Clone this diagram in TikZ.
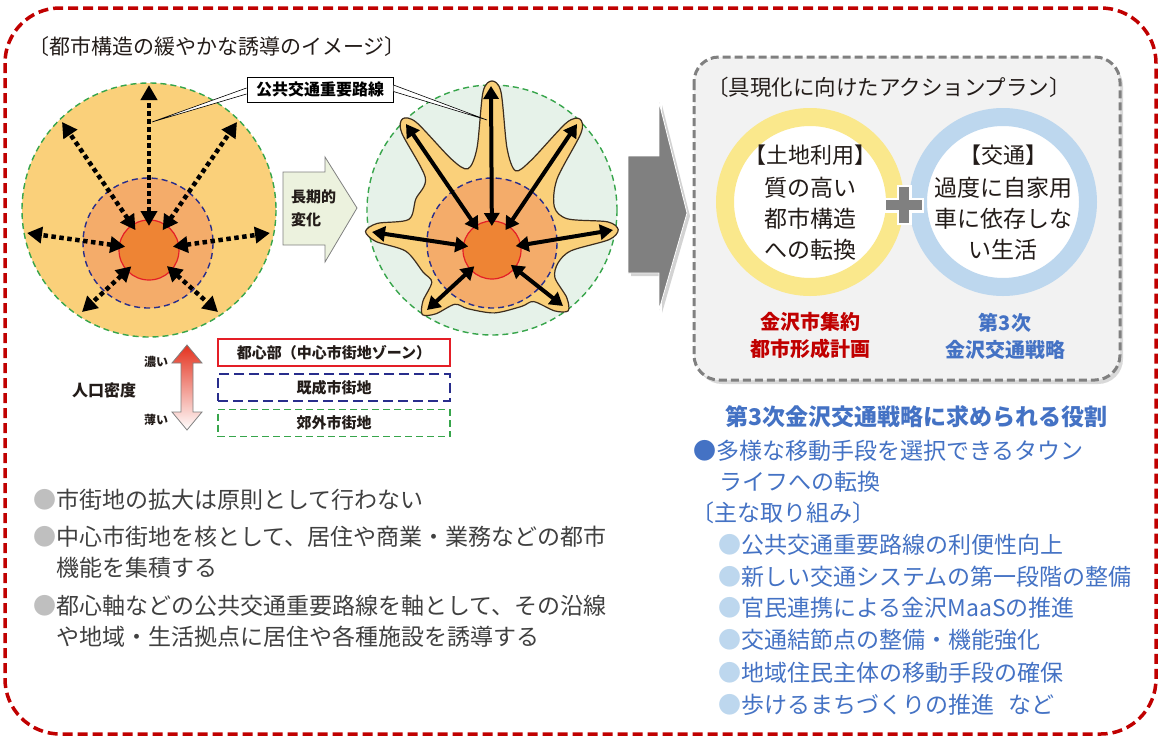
\documentclass[tikz,border=0pt]{standalone}
\usepackage{fontspec}
\setmainfont{Noto Sans CJK JP}
\usetikzlibrary{arrows.meta, calc, shadows}

\definecolor{framered}{RGB}{192,0,0}
\definecolor{ink}{RGB}{35,28,25}
\definecolor{txtgray}{RGB}{64,64,64}
\definecolor{bulgray}{RGB}{191,191,191}
\definecolor{outerfill}{RGB}{250,208,122}
\definecolor{midfill}{RGB}{244,172,106}
\definecolor{corefill}{RGB}{238,132,52}
\definecolor{subgreen}{RGB}{55,165,75}
\definecolor{navy}{RGB}{40,45,140}
\definecolor{corered}{RGB}{228,30,38}
\definecolor{paleg}{RGB}{230,242,233}
\definecolor{starline}{RGB}{60,45,30}
\definecolor{changefill}{RGB}{236,242,222}
\definecolor{densred}{RGB}{228,50,30}
\definecolor{panelgray}{RGB}{242,242,242}
\definecolor{dashgray}{RGB}{128,128,128}
\definecolor{ringyellow}{RGB}{250,232,140}
\definecolor{ringblue}{RGB}{189,215,238}
\definecolor{planred}{RGB}{192,0,0}
\definecolor{planblue}{RGB}{68,114,196}
\definecolor{lblue}{RGB}{189,215,238}

\begin{document}
\begin{tikzpicture}[x=1pt, y=-1pt,
  zone/.style={dash pattern=on 6pt off 4pt, line width=1.4pt},
  dotarr/.style={line width=4.5pt, dash pattern=on 4.5pt off 3.5pt, >={Triangle[length=15pt,width=16pt]}, <->},
  solarr/.style={line width=4pt, >={Triangle[length=13pt,width=15pt]}, <->},
  legbox/.style={minimum width=232pt, minimum height=27pt, inner sep=0pt, font=\fontsize{15}{15}\selectfont\bfseries, text=ink},
  bodytxt/.style={anchor=west, inner sep=0pt, align=left, font=\fontsize{23}{31}\selectfont}]
  \useasboundingbox (0,0) rectangle (1163,742);

  % outer frame
  \draw[framered, line width=3.5pt, dash pattern=on 10pt off 5pt, rounded corners=55pt] (5,8) rectangle (1156,734);
  \node[anchor=west, inner sep=0pt, font=\fontsize{21}{21}\selectfont, text=ink] (ttl) at (28,47) {〔都市構造の緩やかな誘導のイメージ〕};

  % today: spreading city
  \fill[outerfill] (149,210) circle[radius=127];
  \draw[subgreen, zone] (149,210) circle[radius=127];
  \draw[navy, zone, fill=midfill] (148,243) circle[radius=65];
  \draw[corered, line width=1.2pt, fill=corefill] (149,250) circle[radius=30];
  \coordinate (lc) at (149,250);
  \coordinate (lt1) at (149,85);
  \coordinate (lt2) at (62,122);
  \coordinate (lt3) at (237,122);
  \coordinate (lt4) at (27,233);
  \coordinate (lt5) at (270,233);
  \coordinate (lt6) at (82,312);
  \coordinate (lt7) at (218,312);
  \draw[dotarr] ($(lc)!24pt!(lt1)$) -- (lt1);
  \draw[dotarr] ($(lc)!24pt!(lt2)$) -- (lt2);
  \draw[dotarr] ($(lc)!24pt!(lt3)$) -- (lt3);
  \draw[dotarr] ($(lc)!24pt!(lt4)$) -- (lt4);
  \draw[dotarr] ($(lc)!24pt!(lt5)$) -- (lt5);
  \draw[dotarr] ($(lc)!24pt!(lt6)$) -- (lt6);
  \draw[dotarr] ($(lc)!24pt!(lt7)$) -- (lt7);

  % long-term change
  \draw[dashgray, line width=0.8pt, fill=changefill] (283,172) -- (325,172) -- (325,157) -- (357,208) -- (325,262) -- (325,245) -- (283,245) -- cycle;
  \node[anchor=west, inner sep=0pt, align=left, font=\fontsize{15}{23}\selectfont\bfseries, text=ink] (chg) at (291,208) {長期的\\変化};

  % future: city along the main routes
  \draw[subgreen, zone, fill=paleg] (492,210) circle[radius=125];
  \draw[starline, line width=1.2pt, fill=outerfill] plot[smooth cycle] coordinates {
    (431.8,282.1) (422.9,301.2) (422.4,314.7) (435.9,313.8) (454.8,304.3)
    (468.1,308.8) (494.5,312.9) (521.6,306.4)
    (533.7,301.6) (554.7,310.9) (568.2,310.8) (566.7,297.5) (554.9,277.6)
    (558,263)
    (571.2,250.7) (609.2,239.6) (618.2,229.7) (607.4,221.8) (567.8,218.9)
    (554.4,207)
    (557.1,178.9) (580.9,133.3) (580.0,119.1) (566.3,122.9) (531.1,160.3)
    (515.5,170.7)
    (507,148) (501,92) (492,81) (483,92) (477,148)
    (467.9,168.8)
    (451.3,159.0) (416.4,122.4) (402.6,118.8) (401.8,133.0) (425.3,177.6)
    (415.8,199)
    (408.8,219.4) (377.3,223.4) (365.5,231.4) (375.7,241.4) (405.8,251.2)
    (423,272)};
  \draw[navy, zone, fill=midfill] (492,243) circle[radius=65];
  \draw[corered, line width=1.2pt, fill=corefill] (492,250) circle[radius=29];
  \coordinate (rc) at (492,250);
  \coordinate (rt1) at (491,86);
  \coordinate (rt2) at (406,124);
  \coordinate (rt3) at (577,124);
  \coordinate (rt4) at (372,232);
  \coordinate (rt5) at (613,230);
  \coordinate (rt6) at (427,310);
  \coordinate (rt7) at (563,306);
  \draw[solarr] ($(rc)!24pt!(rt1)$) -- (rt1);
  \draw[solarr] ($(rc)!24pt!(rt2)$) -- (rt2);
  \draw[solarr] ($(rc)!24pt!(rt3)$) -- (rt3);
  \draw[solarr] ($(rc)!24pt!(rt4)$) -- (rt4);
  \draw[solarr] ($(rc)!24pt!(rt5)$) -- (rt5);
  \draw[solarr] ($(rc)!24pt!(rt6)$) -- (rt6);
  \draw[solarr] ($(rc)!24pt!(rt7)$) -- (rt7);

  % route label with callouts
  \coordinate (lpin) at (152,122);
  \coordinate (rpin) at (487,120);
  \node[draw=black, fill=white, line width=1pt, minimum width=146pt, minimum height=25pt, inner sep=0pt, font=\fontsize{16}{16}\selectfont\bfseries] (route) at (320,89.5) {公共交通重要路線};
  \draw[fill=white, line width=0.6pt] ([yshift=1.5pt]route.west) -- (lpin) -- ([yshift=-4.5pt]route.west);
  \draw[fill=white, line width=0.6pt] ([yshift=4.5pt]route.east) -- (rpin) -- ([yshift=-2pt]route.east);

  % density legend
  \node[font=\fontsize{16}{16}\selectfont\bfseries, text=ink] (dens) at (104,390) {人口密度};
  \node[font=\fontsize{12}{12}\selectfont\bfseries, text=ink] (hi) at (156,362) {濃い};
  \node[font=\fontsize{12}{12}\selectfont\bfseries, text=ink] (lo) at (156,420) {薄い};
  \path[draw=dashgray, line width=0.8pt, top color=densred, bottom color=white] (187,345) -- (202,363) -- (193,363) -- (193,412) -- (202,412) -- (187,430) -- (172,412) -- (181,412) -- (181,363) -- (172,363) -- cycle;
  \node[legbox, draw=corered, line width=1.3pt] (k1) at (334,352.5) {都心部（中心市街地ゾーン）};
  \node[legbox, draw=navy, line width=1.4pt, dash pattern=on 10pt off 5pt] (k2) at (334,387.5) {既成市街地};
  \node[legbox, draw=subgreen, line width=1.4pt, dash pattern=on 7pt off 4pt] (k3) at (334,423) {郊外市街地};

  % policy points
  \node[bodytxt, text=txtgray] (p1) at (33,500) {\textcolor{bulgray}{●}市街地の拡大は原則として行わない};
  \node[bodytxt, text=txtgray] (p2) at (33,552) {\textcolor{bulgray}{●}中心市街地を核として、居住や商業・業務などの都市\\\phantom{●}機能を集積する};
  \node[bodytxt, text=txtgray] (p3) at (33,621) {\textcolor{bulgray}{●}都心軸などの公共交通重要路線を軸として、その沿線\\\phantom{●}や地域・生活拠点に居住や各種施設を誘導する};

  % big arrow to the action plan
  \path[fill=dashgray, draw=white, line width=0.8pt, drop shadow={opacity=0.35, shadow xshift=3pt, shadow yshift=-3pt}] (628,156) -- (659,156) -- (659,102) -- (687,213) -- (659,310) -- (659,273) -- (628,273) -- cycle;

  % action plan panel
  \path[draw=dashgray, line width=3pt, dash pattern=on 8pt off 4pt, fill=panelgray, rounded corners=25pt, drop shadow={opacity=0.3, shadow xshift=3pt, shadow yshift=-4pt}] (694,57) rectangle (1120,380);
  \node[anchor=west, inner sep=0pt, font=\fontsize{21.5}{21.5}\selectfont, text=ink] (plan) at (707,87) {〔具現化に向けたアクションプラン〕};
  \draw[ringyellow, line width=18pt, fill=white] (810,202) circle[radius=85];
  \draw[ringblue, line width=18pt, fill=white] (1003,202) circle[radius=85];
  \draw[white, line width=15pt] (884,205) -- (924,205) (904,185) -- (904,225);
  \draw[dashgray, line width=10pt] (886,205) -- (922,205) (904,187) -- (904,223);
  \node[font=\fontsize{22}{22}\selectfont, text=ink] (landh) at (810,155) {【土地利用】};
  \node[align=center, font=\fontsize{23}{31}\selectfont, text=ink] (land) at (810,219) {質の高い\\都市構造\\への転換};
  \node[font=\fontsize{22}{22}\selectfont, text=ink] (trafh) at (1003,155) {【交通】};
  \node[align=center, font=\fontsize{23}{31}\selectfont, text=ink] (traf) at (1003,219) {過度に自家用\\車に依存しな\\い生活};
  \node[align=center, font=\fontsize{20}{27}\selectfont\bfseries, text=planred] (cityplan) at (810,336) {金沢市集約\\都市形成計画};
  \node[align=center, font=\fontsize{20}{27}\selectfont\bfseries, text=planblue] (trafplan) at (1005,336) {第3次\\金沢交通戦略};

  % role of the transport strategy
  \node[font=\fontsize{23}{23}\selectfont\bfseries, text=planblue] (role) at (916,417) {第3次金沢交通戦略に求められる役割};
  \node[bodytxt, text=planblue] (town) at (693,466) {●多様な移動手段を選択できるタウン\\\hspace*{1.15em}ライフへの転換};
  \node[bodytxt, text=planblue] (acts) at (691,513) {〔主な取り組み〕};
  \node[bodytxt, text=planblue] (a1) at (718,545) {\textcolor{lblue}{●}公共交通重要路線の利便性向上};
  \node[bodytxt, text=planblue] (a2) at (718,577) {\textcolor{lblue}{●}新しい交通システムの第一段階の整備};
  \node[bodytxt, text=planblue] (a3) at (718,608) {\textcolor{lblue}{●}官民連携による金沢MaaSの推進};
  \node[bodytxt, text=planblue] (a4) at (718,640) {\textcolor{lblue}{●}交通結節点の整備・機能強化};
  \node[bodytxt, text=planblue] (a5) at (718,673) {\textcolor{lblue}{●}地域住民主体の移動手段の確保};
  \node[bodytxt, text=planblue] (a6) at (718,705) {\textcolor{lblue}{●}歩けるまちづくりの推進\hspace{0.6em}など};
\end{tikzpicture}
\end{document}
